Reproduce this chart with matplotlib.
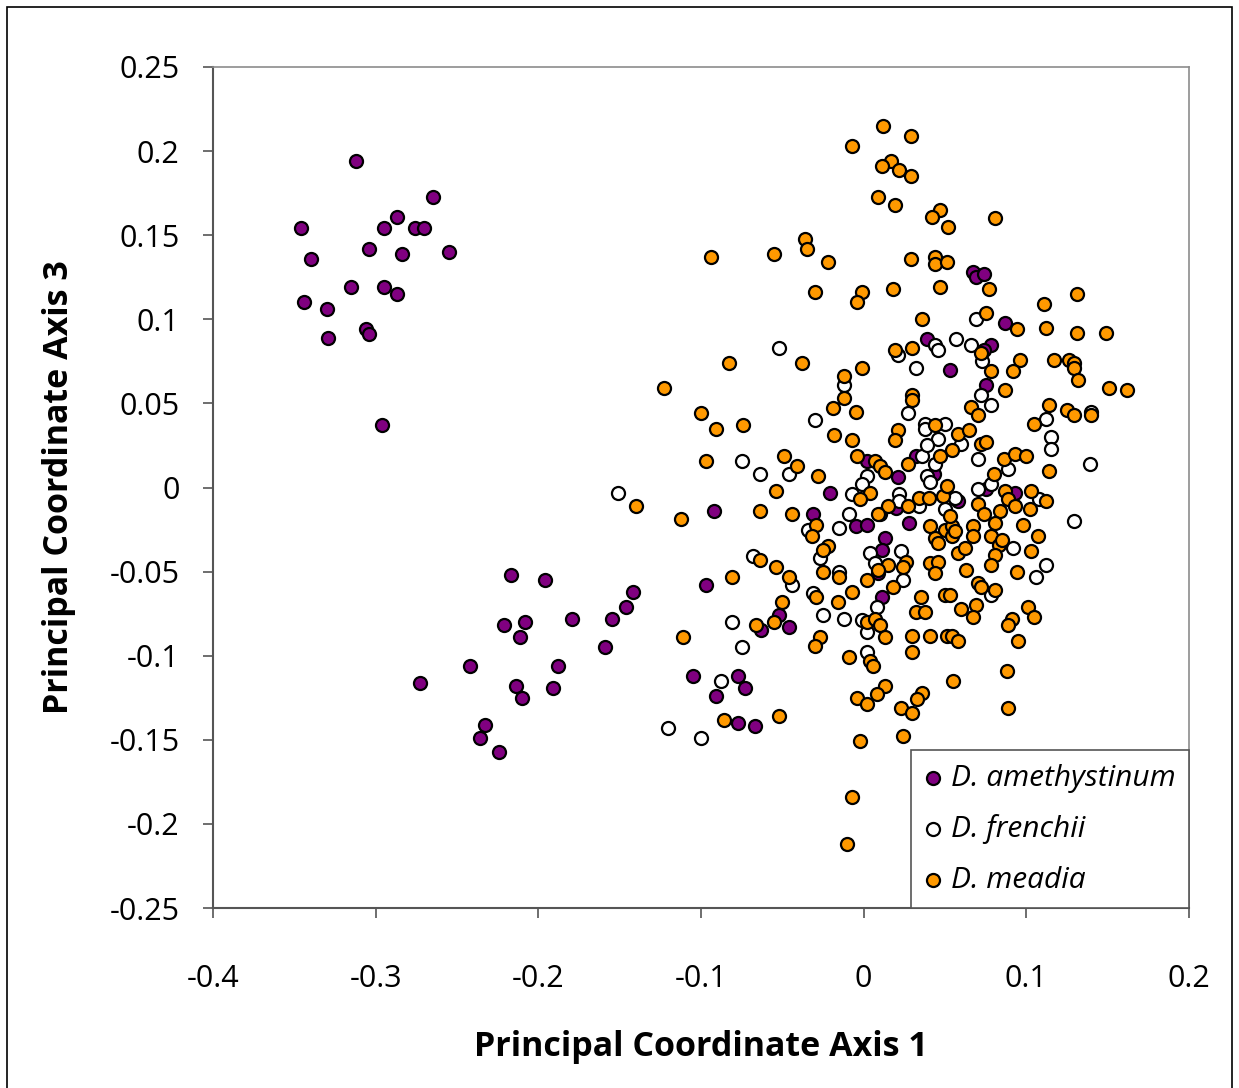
import numpy as np
import matplotlib
matplotlib.use('Agg')
import matplotlib.pyplot as plt
from matplotlib.patches import Rectangle

# PCoA scores (axis 1, axis 3)
amethystinum = np.array([
    (-0.312, 0.194), (-0.265, 0.173), (-0.287, 0.161), (-0.346, 0.154), (-0.295, 0.154),
    (-0.276, 0.154), (-0.270, 0.154), (-0.304, 0.142), (-0.284, 0.139), (-0.255, 0.140),
    (-0.340, 0.136), (-0.315, 0.119), (-0.295, 0.119), (-0.287, 0.115), (-0.344, 0.110),
    (-0.330, 0.106), (-0.329, 0.089), (-0.306, 0.094), (-0.304, 0.091), (-0.296, 0.037),
    (-0.217, -0.052), (-0.196, -0.055), (-0.142, -0.062), (-0.146, -0.071), (-0.221, -0.082),
    (-0.208, -0.080), (-0.179, -0.078), (-0.155, -0.078), (-0.211, -0.089), (-0.159, -0.095),
    (-0.242, -0.106), (-0.188, -0.106), (-0.214, -0.118), (-0.191, -0.119), (-0.210, -0.125),
    (-0.233, -0.141), (-0.236, -0.149), (-0.224, -0.157), (-0.273, -0.116),
    (-0.092, -0.014), (-0.097, -0.058), (-0.052, -0.076), (-0.063, -0.085), (-0.046, -0.083),
    (-0.105, -0.112), (-0.077, -0.112), (-0.073, -0.119), (-0.091, -0.124), (-0.077, -0.140),
    (-0.067, -0.142),
    (0.039, 0.088), (0.053, 0.070), (0.002, 0.016), (0.021, 0.006), (-0.021, -0.003),
    (-0.031, -0.016), (0.020, -0.012), (0.032, 0.019), (0.043, 0.008), (-0.005, -0.023),
    (0.002, -0.022), (0.028, -0.021), (0.013, -0.030), (0.011, -0.037), (0.009, -0.051),
    (0.011, -0.065),
    (0.067, 0.128), (0.069, 0.125), (0.074, 0.127), (0.087, 0.098), (0.078, 0.085),
    (0.074, 0.082), (0.075, 0.061), (0.075, -0.001), (0.093, -0.003), (0.058, -0.008),
])

frenchii = np.array([
    (-0.151, -0.003), (-0.068, -0.041), (-0.044, -0.058), (-0.081, -0.080), (-0.075, -0.095),
    (-0.088, -0.115), (-0.120, -0.143), (-0.100, -0.149),
    (-0.052, 0.083), (-0.075, 0.016), (-0.064, 0.008), (-0.046, 0.008),
    (0.044, 0.085), (0.021, 0.079), (0.046, 0.082), (0.032, 0.071), (-0.012, 0.061),
    (0.027, 0.044), (-0.030, 0.040), (0.038, 0.038), (0.038, 0.035), (0.050, 0.038),
    (0.046, 0.029), (0.002, 0.007), (-0.001, 0.002), (-0.007, -0.004), (0.022, -0.004),
    (0.022, -0.008), (0.036, 0.019), (0.039, 0.025), (0.044, 0.014), (0.039, 0.007),
    (0.041, 0.003), (0.034, -0.011), (0.050, -0.013), (-0.009, -0.016),
    (-0.015, -0.024), (-0.034, -0.025), (-0.027, -0.042), (-0.015, -0.050), (0.004, -0.039),
    (0.023, -0.038), (0.007, -0.045), (0.024, -0.055), (-0.031, -0.063), (0.008, -0.071),
    (-0.025, -0.076), (-0.012, -0.078), (-0.001, -0.079), (0.002, -0.086), (0.002, -0.098),
    (0.057, 0.088), (0.066, 0.085), (0.069, 0.100), (0.073, 0.075), (0.072, 0.055),
    (0.078, 0.049), (0.112, 0.041), (0.115, 0.030), (0.115, 0.023), (0.139, 0.014),
    (0.060, 0.026), (0.070, 0.017), (0.089, 0.011), (0.078, 0.002), (0.070, -0.001),
    (0.108, -0.007), (0.129, -0.020), (0.056, -0.006), (0.092, -0.036), (0.106, -0.053),
    (0.112, -0.046), (0.078, -0.064), (0.140, 0.045),
])

meadia = np.array([
    (-0.140, -0.011), (-0.112, -0.019), (-0.064, -0.014), (-0.054, -0.002), (-0.044, -0.016),
    (-0.064, -0.043), (-0.054, -0.047), (-0.046, -0.053), (-0.081, -0.053), (-0.050, -0.068),
    (-0.055, -0.080), (-0.066, -0.082), (-0.111, -0.089), (-0.052, -0.136), (-0.086, -0.138),
    (-0.094, 0.137), (-0.055, 0.139), (-0.083, 0.074), (-0.123, 0.059), (-0.100, 0.044),
    (-0.091, 0.035), (-0.074, 0.037), (-0.097, 0.016), (-0.049, 0.019), (-0.041, 0.013),
    (0.012, 0.215), (0.029, 0.209), (-0.007, 0.203), (0.017, 0.194), (0.011, 0.191),
    (0.022, 0.189), (0.029, 0.185), (0.009, 0.173), (0.019, 0.168), (0.047, 0.165),
    (0.042, 0.161), (0.052, 0.155), (-0.036, 0.148), (-0.035, 0.142), (-0.022, 0.134),
    (0.029, 0.136), (0.044, 0.137), (0.044, 0.133), (0.051, 0.134), (-0.030, 0.116),
    (-0.001, 0.116), (-0.004, 0.110), (0.018, 0.118), (0.047, 0.119), (0.036, 0.100),
    (-0.038, 0.074), (0.019, 0.082), (0.030, 0.083), (-0.001, 0.071), (-0.012, 0.066),
    (-0.012, 0.053), (-0.019, 0.047), (-0.005, 0.045), (0.030, 0.055), (0.030, 0.052),
    (0.021, 0.034), (0.019, 0.028), (0.044, 0.037), (-0.018, 0.031), (-0.007, 0.028),
    (-0.028, 0.007), (-0.004, 0.019), (0.007, 0.016), (0.010, 0.013), (0.013, 0.009),
    (0.004, -0.003), (-0.002, -0.007), (0.010, -0.016), (0.015, -0.011), (0.027, -0.011),
    (0.027, 0.014), (0.047, 0.019), (0.034, -0.006), (0.040, -0.006), (0.049, -0.005),
    (0.051, 0.001), (0.009, -0.016),
    (-0.029, -0.022), (0.041, -0.023), (0.050, -0.025), (-0.032, -0.029), (-0.022, -0.035),
    (-0.025, -0.037), (-0.025, -0.050), (-0.015, -0.053), (0.026, -0.044), (0.024, -0.047),
    (0.015, -0.046), (0.009, -0.049), (0.002, -0.055), (0.018, -0.059), (-0.007, -0.062),
    (-0.029, -0.065), (-0.016, -0.068), (0.002, -0.080), (0.007, -0.078), (0.010, -0.082),
    (0.013, -0.089), (-0.027, -0.089), (-0.030, -0.094), (0.035, -0.065), (0.032, -0.074),
    (0.038, -0.074), (0.030, -0.088), (0.041, -0.088), (0.051, -0.088), (0.030, -0.098),
    (-0.009, -0.101), (0.004, -0.103), (0.006, -0.106), (0.041, -0.045), (0.046, -0.044),
    (0.044, -0.051), (0.044, -0.030), (0.046, -0.033), (0.050, -0.064), (0.013, -0.118),
    (0.008, -0.123), (-0.004, -0.125), (0.002, -0.129), (0.036, -0.122), (0.033, -0.126),
    (0.023, -0.131), (0.030, -0.134), (0.055, -0.115),
    (-0.002, -0.151), (0.024, -0.148), (-0.007, -0.184), (-0.010, -0.212),
    (0.081, 0.160), (0.077, 0.118), (0.111, 0.109), (0.131, 0.115), (0.075, 0.104),
    (0.094, 0.094), (0.112, 0.095), (0.131, 0.092), (0.149, 0.092), (0.072, 0.080),
    (0.078, 0.069), (0.096, 0.076), (0.092, 0.069), (0.117, 0.076), (0.126, 0.076),
    (0.129, 0.074), (0.129, 0.071), (0.132, 0.064), (0.151, 0.059), (0.162, 0.058),
    (0.087, 0.058),
    (0.066, 0.048), (0.070, 0.043), (0.114, 0.049), (0.125, 0.046), (0.129, 0.043),
    (0.140, 0.043), (0.105, 0.038), (0.114, 0.010), (0.058, 0.032), (0.065, 0.034),
    (0.072, 0.026), (0.075, 0.027), (0.054, 0.022), (0.086, 0.017), (0.093, 0.020),
    (0.100, 0.019), (0.080, 0.008), (0.087, -0.002), (0.089, -0.007), (0.103, -0.002),
    (0.112, -0.008), (0.070, -0.010), (0.093, -0.011), (0.102, -0.013), (0.074, -0.016),
    (0.084, -0.014), (0.081, -0.021), (0.098, -0.022), (0.067, -0.023), (0.067, -0.029),
    (0.078, -0.029), (0.083, -0.034), (0.085, -0.031), (0.107, -0.029), (0.103, -0.038),
    (0.081, -0.040), (0.054, -0.023), (0.054, -0.029), (0.056, -0.026), (0.058, -0.039),
    (0.062, -0.036), (0.053, -0.017),
    (0.063, -0.049), (0.078, -0.046), (0.094, -0.050), (0.070, -0.057), (0.072, -0.059),
    (0.081, -0.061), (0.053, -0.064), (0.069, -0.070), (0.060, -0.072), (0.067, -0.077),
    (0.101, -0.071), (0.105, -0.077), (0.091, -0.078), (0.089, -0.082), (0.095, -0.091),
    (0.054, -0.088), (0.058, -0.091), (0.088, -0.109), (0.089, -0.131),
])

species = ['D. amethystinum', 'D. frenchii', 'D. meadia']
colors = ['#800080', '#ffffff', '#ff9900']
x_ticks = [-0.4, -0.3, -0.2, -0.1, 0, 0.1, 0.2]
x_tick_labels = ['-0.4', '-0.3', '-0.2', '-0.1', '0', '0.1', '0.2']
y_ticks = [-0.25, -0.2, -0.15, -0.1, -0.05, 0, 0.05, 0.1, 0.15, 0.2, 0.25]
y_tick_labels = ['-0.25', '-0.2', '-0.15', '-0.1', '-0.05', '0', '0.05', '0.1', '0.15', '0.2', '0.25']

plt.rcParams['font.family'] = ['Open Sans', 'DejaVu Sans']

fig = plt.figure(figsize=(12.39, 10.88), dpi=100)
# outer chart border
fig.patches.append(Rectangle((7 / 1239, -0.01), 1225 / 1239, 1.01 - 7 / 1088,
                             transform=fig.transFigure, fill=False,
                             edgecolor='black', linewidth=1.2))

ax = fig.add_axes([213 / 1239, 180 / 1088, 976 / 1239, 841 / 1088])

for data, name, col in zip([amethystinum, frenchii, meadia], species, colors):
    ax.scatter(data[:, 0], data[:, 1], s=88, c=col, edgecolors='black',
               linewidths=1.6, label=name, zorder=3)

ax.set_xlim(-0.4, 0.2)
ax.set_ylim(-0.25, 0.25)
ax.set_xticks(x_ticks)
ax.set_xticklabels(x_tick_labels)
ax.set_yticks(y_ticks)
ax.set_yticklabels(y_tick_labels)
ax.tick_params(axis='both', direction='out', length=7, width=1.2, colors='#555555',
               labelcolor='black', labelsize=22)
ax.tick_params(axis='x', pad=33)
ax.tick_params(axis='y', pad=17)

for side in ['top', 'right']:
    ax.spines[side].set_color('#8c8c8c')
    ax.spines[side].set_linewidth(1.2)
for side in ['left', 'bottom']:
    ax.spines[side].set_color('#555555')
    ax.spines[side].set_linewidth(1.5)

ax.set_xlabel('Principal Coordinate Axis 1', fontsize=24.5, fontweight='bold', labelpad=26)
ax.set_ylabel('Principal Coordinate Axis 3', fontsize=24.5, fontweight='bold', labelpad=24)

leg = ax.legend(loc='lower right', bbox_to_anchor=(1, 0), borderaxespad=0,
                fancybox=False, edgecolor='#555555', framealpha=1,
                prop={'style': 'italic', 'size': 21.5}, handletextpad=0.3,
                labelspacing=0.72, borderpad=0.45, handlelength=0.6,
                scatterpoints=1)
leg.get_frame().set_linewidth(1.2)

fig.savefig('out.png', dpi=100)
